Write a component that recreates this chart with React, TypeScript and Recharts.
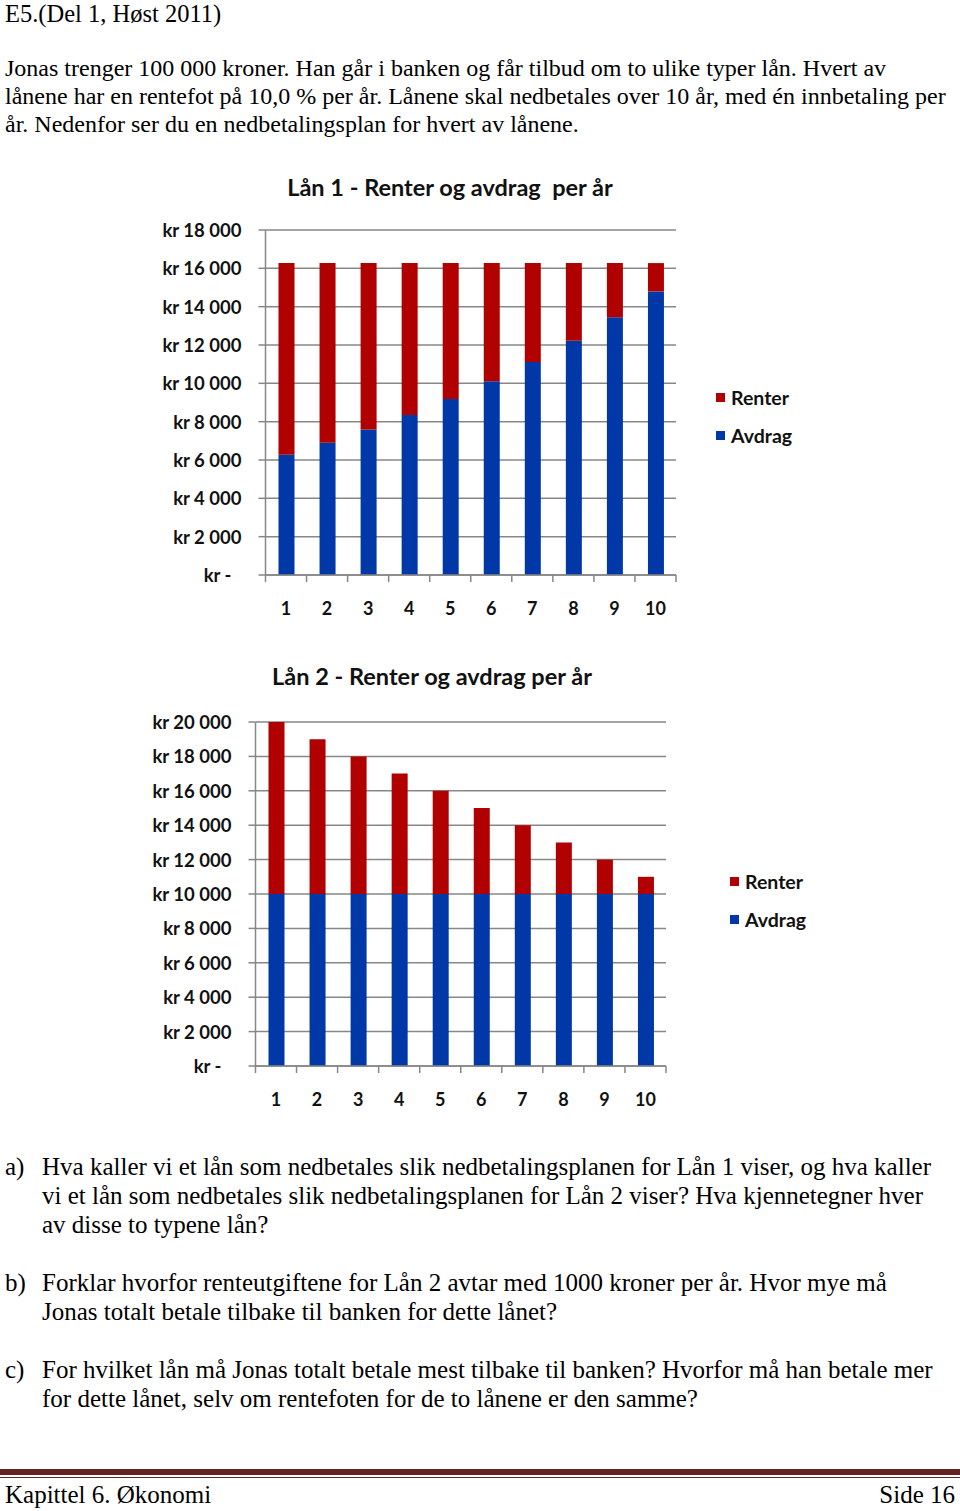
import React from 'react';
import { BarChart, Bar, XAxis, YAxis, CartesianGrid, Legend } from 'recharts';

// years 1..10
const years = ['1', '2', '3', '4', '5', '6', '7', '8', '9', '10'];

// Lån 1 (annuitet)
const avdrag1 = [6275, 6902, 7592, 8351, 9187, 10105, 11116, 12227, 13450, 14795];
const renter1 = [10000, 9373, 8682, 7923, 7088, 6169, 5159, 4047, 2825, 1479];
const ticks1 = [0, 2000, 4000, 6000, 8000, 10000, 12000, 14000, 16000, 18000];

// Lån 2 (serie)
const avdrag2 = [10000, 10000, 10000, 10000, 10000, 10000, 10000, 10000, 10000, 10000];
const renter2 = [10000, 9000, 8000, 7000, 6000, 5000, 4000, 3000, 2000, 1000];
const ticks2 = [0, 2000, 4000, 6000, 8000, 10000, 12000, 14000, 16000, 18000, 20000];

const RED = '#b00000';
const BLUE = '#0038a8';
const GRID = '#878787';
const CHART_FONT = 'Lato, "Open Sans", sans-serif';
const SERIF = '"Liberation Serif", "Times New Roman", serif';

const data1 = years.map((y, i) => ({ year: y, avdrag: avdrag1[i], renter: renter1[i] }));
const data2 = years.map((y, i) => ({ year: y, avdrag: avdrag2[i], renter: renter2[i] }));

const fmtKr = (v: number) => {
  if (v === 0) return 'kr -';
  const s = String(v);
  return 'kr ' + s.slice(0, s.length - 3) + ' ' + s.slice(s.length - 3);
};

const YTick = (props: any) => {
  const { x, y, payload } = props;
  const zero = payload.value === 0;
  return (
    <text
      x={zero ? x - 10 : x}
      y={y}
      textAnchor="end"
      dominantBaseline="central"
      fontFamily={CHART_FONT}
      fontWeight={700}
      fontSize={18.5}
      fill="#111"
    >
      {fmtKr(payload.value)}
    </text>
  );
};

const makeXTick = (half: number, count: number) => (props: any) => {
  const { x, y, payload, index } = props;
  return (
    <g>
      <line x1={x - half} x2={x - half} y1={y} y2={y + 7} stroke={GRID} strokeWidth={1.5} />
      {index === count - 1 && (
        <line x1={x + half} x2={x + half} y1={y} y2={y + 7} stroke={GRID} strokeWidth={1.5} />
      )}
      <text
        x={x}
        y={y + 33}
        textAnchor="middle"
        dominantBaseline="central"
        fontFamily={CHART_FONT}
        fontWeight={700}
        fontSize={18}
        fill="#111"
      >
        {payload.value}
      </text>
    </g>
  );
};

const LegendBox = () => (
  <div style={{ fontFamily: CHART_FONT, fontWeight: 700, fontSize: 19.5, color: '#111' }}>
    {[
      { name: 'Renter', color: RED },
      { name: 'Avdrag', color: BLUE },
    ].map((it, i) => (
      <div key={it.name} style={{ display: 'flex', alignItems: 'center', height: 20, marginTop: i ? 18 : 0 }}>
        <span style={{ width: 9, height: 9, background: it.color, display: 'inline-block', marginRight: 6 }} />
        <span>{it.name}</span>
      </div>
    ))}
  </div>
);

interface LoanChartProps {
  data: { year: string; avdrag: number; renter: number }[];
  ticks: number[];
  width: number;
  height: number;
  margin: { top: number; right: number; left: number; bottom: number };
  plotWidth: number;
  legendPos: { left: number; top: number };
}

function LoanChart({ data, ticks, width, height, margin, plotWidth, legendPos }: LoanChartProps) {
  const half = plotWidth / data.length / 2;
  return (
    <BarChart width={width} height={height} data={data} margin={margin}>
      <CartesianGrid vertical={false} stroke={GRID} strokeWidth={1.5} />
      <XAxis
        dataKey="year"
        axisLine={{ stroke: GRID, strokeWidth: 1.5 }}
        tickLine={false}
        tickSize={0}
        tickMargin={0}
        tick={makeXTick(half, data.length)}
        interval={0}
        height={40}
      />
      <YAxis
        domain={[0, ticks[ticks.length - 1]]}
        ticks={ticks}
        interval={0}
        width={115.5}
        axisLine={{ stroke: GRID, strokeWidth: 1.5 }}
        tickLine={{ stroke: GRID, strokeWidth: 1.5 }}
        tickSize={7}
        tickMargin={17}
        tick={<YTick />}
      />
      <Legend
        layout="vertical"
        align="center"
        verticalAlign="middle"
        content={<LegendBox />}
        wrapperStyle={{ left: legendPos.left, top: legendPos.top, width: 120 }}
      />
      <Bar dataKey="avdrag" stackId="a" fill={BLUE} barSize={16} isAnimationActive={false} />
      <Bar dataKey="renter" stackId="a" fill={RED} barSize={16} isAnimationActive={false} />
    </BarChart>
  );
}

const T = ({ cy, x, size = 24, children }: { cy: number; x: number; size?: number; children: React.ReactNode }) => (
  <div
    style={{
      position: 'absolute',
      left: x,
      top: cy - 15,
      fontSize: size,
      lineHeight: '30px',
      whiteSpace: 'nowrap',
    }}
  >
    {children}
  </div>
);

const titleStyle: React.CSSProperties = {
  position: 'absolute',
  width: 600,
  textAlign: 'center',
  fontFamily: CHART_FONT,
  fontWeight: 700,
  fontSize: 23.5,
  color: '#111',
  lineHeight: '30px',
};

export default function App() {
  return (
    <div
      style={{
        position: 'absolute',
        left: 0,
        top: 0,
        width: 960,
        height: 1511,
        background: '#fff',
        fontFamily: SERIF,
        color: '#000',
        overflow: 'hidden',
      }}
    >
      <div style={{ position: 'absolute', left: 5, top: 0, fontSize: 24.5, lineHeight: '27px', whiteSpace: 'nowrap' }}>
        E5.(Del 1, Høst 2011)
      </div>
      <T cy={68} x={5}>Jonas trenger 100 000 kroner. Han går i banken og får tilbud om to ulike typer lån. Hvert av</T>
      <T cy={96} x={5}>lånene har en rentefot på 10,0 % per år. Lånene skal nedbetales over 10 år, med én innbetaling per</T>
      <T cy={124} x={5}>år. Nedenfor ser du en nedbetalingsplan for hvert av lånene.</T>

      {/* Lån 1 */}
      <div style={{ ...titleStyle, left: 150, top: 172 }}>Lån 1 - Renter og avdrag&nbsp; per år</div>
      <div style={{ position: 'absolute', left: 150, top: 170 }}>
        <LoanChart
          data={data1}
          ticks={ticks1}
          width={680}
          height={460}
          margin={{ top: 60, right: 154, left: 0, bottom: 15 }}
          plotWidth={410.5}
          legendPos={{ left: 566, top: 217 }}
        />
      </div>

      {/* Lån 2 */}
      <div style={{ ...titleStyle, left: 132, top: 661 }}>Lån 2 - Renter og avdrag per år</div>
      <div style={{ position: 'absolute', left: 140, top: 660 }}>
        <LoanChart
          data={data2}
          ticks={ticks2}
          width={700}
          height={460}
          margin={{ top: 62, right: 174, left: 0, bottom: 14 }}
          plotWidth={410.5}
          legendPos={{ left: 590, top: 211 }}
        />
      </div>

      <T cy={1167} x={5} size={25}>a)</T>
      <T cy={1167} x={42} size={25}>Hva kaller vi et lån som nedbetales slik nedbetalingsplanen for Lån 1 viser, og hva kaller</T>
      <T cy={1196} x={42} size={25}>vi et lån som nedbetales slik nedbetalingsplanen for Lån 2 viser? Hva kjennetegner hver</T>
      <T cy={1225} x={42} size={25}>av disse to typene lån?</T>

      <T cy={1283} x={5} size={25}>b)</T>
      <T cy={1283} x={42} size={25}>Forklar hvorfor renteutgiftene for Lån 2 avtar med 1000 kroner per år. Hvor mye må</T>
      <T cy={1312} x={42} size={25}>Jonas totalt betale tilbake til banken for dette lånet?</T>

      <T cy={1370} x={5} size={25}>c)</T>
      <T cy={1370} x={42} size={25}>For hvilket lån må Jonas totalt betale mest tilbake til banken? Hvorfor må han betale mer</T>
      <T cy={1399} x={42} size={25}>for dette lånet, selv om rentefoten for de to lånene er den samme?</T>

      <div style={{ position: 'absolute', left: 0, top: 1469, width: 960, height: 6, background: '#622423' }} />
      <div style={{ position: 'absolute', left: 0, top: 1477, width: 960, height: 1, background: '#622423' }} />
      <T cy={1495} x={5} size={25}>Kapittel 6. Økonomi</T>
      <div
        style={{
          position: 'absolute',
          right: 5,
          top: 1480,
          fontSize: 25,
          lineHeight: '30px',
          whiteSpace: 'nowrap',
        }}
      >
        Side 16
      </div>
    </div>
  );
}
